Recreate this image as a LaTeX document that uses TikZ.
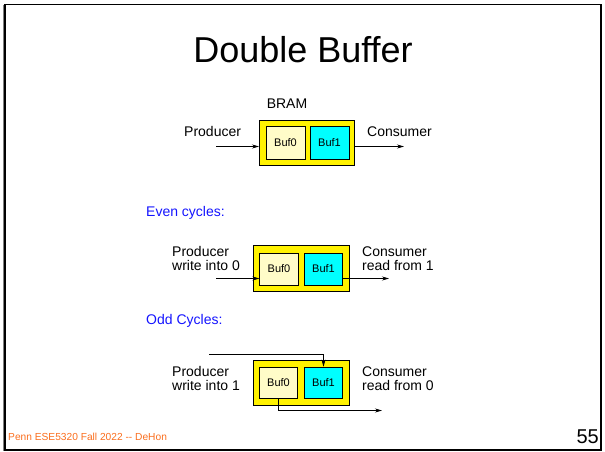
\documentclass[tikz,border=0pt]{standalone}
\usepackage{fontspec}
\setmainfont{Liberation Sans}
\usetikzlibrary{arrows.meta}
\definecolor{bufpale}{RGB}{255,252,200}
\definecolor{bufcyan}{RGB}{0,255,255}
\definecolor{labelblue}{RGB}{20,20,255}
\definecolor{footorange}{RGB}{250,110,30}
\tikzset{
  ram/.style={draw=black, fill=yellow, line width=0.9pt},
  bufzero/.style={draw=black, fill=bufpale, line width=0.7pt},
  bufone/.style={draw=black, fill=bufcyan, line width=0.7pt},
  buftext/.style={font=\fontsize{11}{12}\selectfont},
  lbl/.style={font=\fontsize{14}{14.5}\selectfont, align=left, inner sep=0pt},
  flow/.style={line width=0.7pt, -{Stealth[length=7pt,width=4pt]}},
}
\begin{document}
\begin{tikzpicture}[x=1pt, y=-1pt]
\useasboundingbox (0,0) rectangle (605,452);
% slide frame
\draw[gray, line width=1pt] (3,5) -- (3,451);
\draw[black, line width=1.6pt] (5,4.5) rectangle (601,450);

% title
\node[font=\fontsize{36}{38}\selectfont, inner sep=0pt] (title) at (303,50) {Double Buffer};

% ---- plain BRAM ----
\node[lbl] (bram) at (287,104) {BRAM};
\draw[ram] (259,120) rectangle (354,165);
\node[bufzero, minimum width=39pt, minimum height=32.5pt, inner sep=0pt] (a0) at (285.5,143) {};
\node[buftext] at (a0) {Buf0};
\node[bufone, minimum width=39pt, minimum height=32.5pt, inner sep=0pt] (a1) at (329.5,143) {};
\node[buftext] at (a1) {Buf1};
\coordinate (ain) at (216,146.5);
\coordinate (aout) at (404,146.5);
\coordinate (aleft) at (259,146.5);
\coordinate (aright) at (354,146.5);
\draw[flow] (ain) -- (aleft);
\draw[flow] (aright) -- (aout);
\node[lbl, anchor=west] (aprod) at (184,131.5) {Producer};
\node[lbl, anchor=west] (acons) at (367,131.5) {Consumer};

% ---- even cycles ----
\node[lbl, anchor=west, text=labelblue] (even) at (146,213) {Even cycles:};
\draw[ram] (253,245) rectangle (349,291);
\node[bufzero, minimum width=38.5pt, minimum height=32pt, inner sep=0pt] (b0) at (279,269) {};
\node[buftext] at (b0) {Buf0};
\node[bufone, minimum width=38.5pt, minimum height=32pt, inner sep=0pt] (b1) at (323.5,269) {};
\node[buftext] at (b1) {Buf1};
\coordinate (bin) at (216,278.5);
\coordinate (bout) at (389,278.5);
\draw[flow] (bin) -- (b0.west |- bin);
\draw[flow] (b1.east |- bout) -- (bout);
\node[lbl, anchor=west] (bprod) at (172,258.5) {Producer\\write into 0};
\node[lbl, anchor=west] (bcons) at (362,258.5) {Consumer\\read from 1};

% ---- odd cycles ----
\node[lbl, anchor=west, text=labelblue] (odd) at (146,321) {Odd Cycles:};
\draw[ram] (253,360) rectangle (349,405);
\node[bufzero, minimum width=38.5pt, minimum height=31pt, inner sep=0pt] (c0) at (278.5,382.5) {};
\node[buftext] at (c0) {Buf0};
\node[bufone, minimum width=38.5pt, minimum height=31pt, inner sep=0pt] (c1) at (323.5,382.5) {};
\node[buftext] at (c1) {Buf1};
\coordinate (cin) at (209,354);
\coordinate (cout) at (382,410.5);
\draw[flow] (cin) -| (c1.north);
\draw[flow] (c0.south) |- (cout);
\node[lbl, anchor=west] (cprod) at (172,378.5) {Producer\\write into 1};
\node[lbl, anchor=west] (ccons) at (362,378.5) {Consumer\\read from 0};

% footer
\node[anchor=west, inner sep=0pt, text=footorange, font=\fontsize{10.2}{12}\selectfont] (foot) at (8,437) {Penn ESE5320 Fall 2022 -{}- DeHon};
\node[anchor=east, inner sep=0pt, font=\fontsize{20}{22}\selectfont] (page) at (599,437) {55};
\end{tikzpicture}
\end{document}
